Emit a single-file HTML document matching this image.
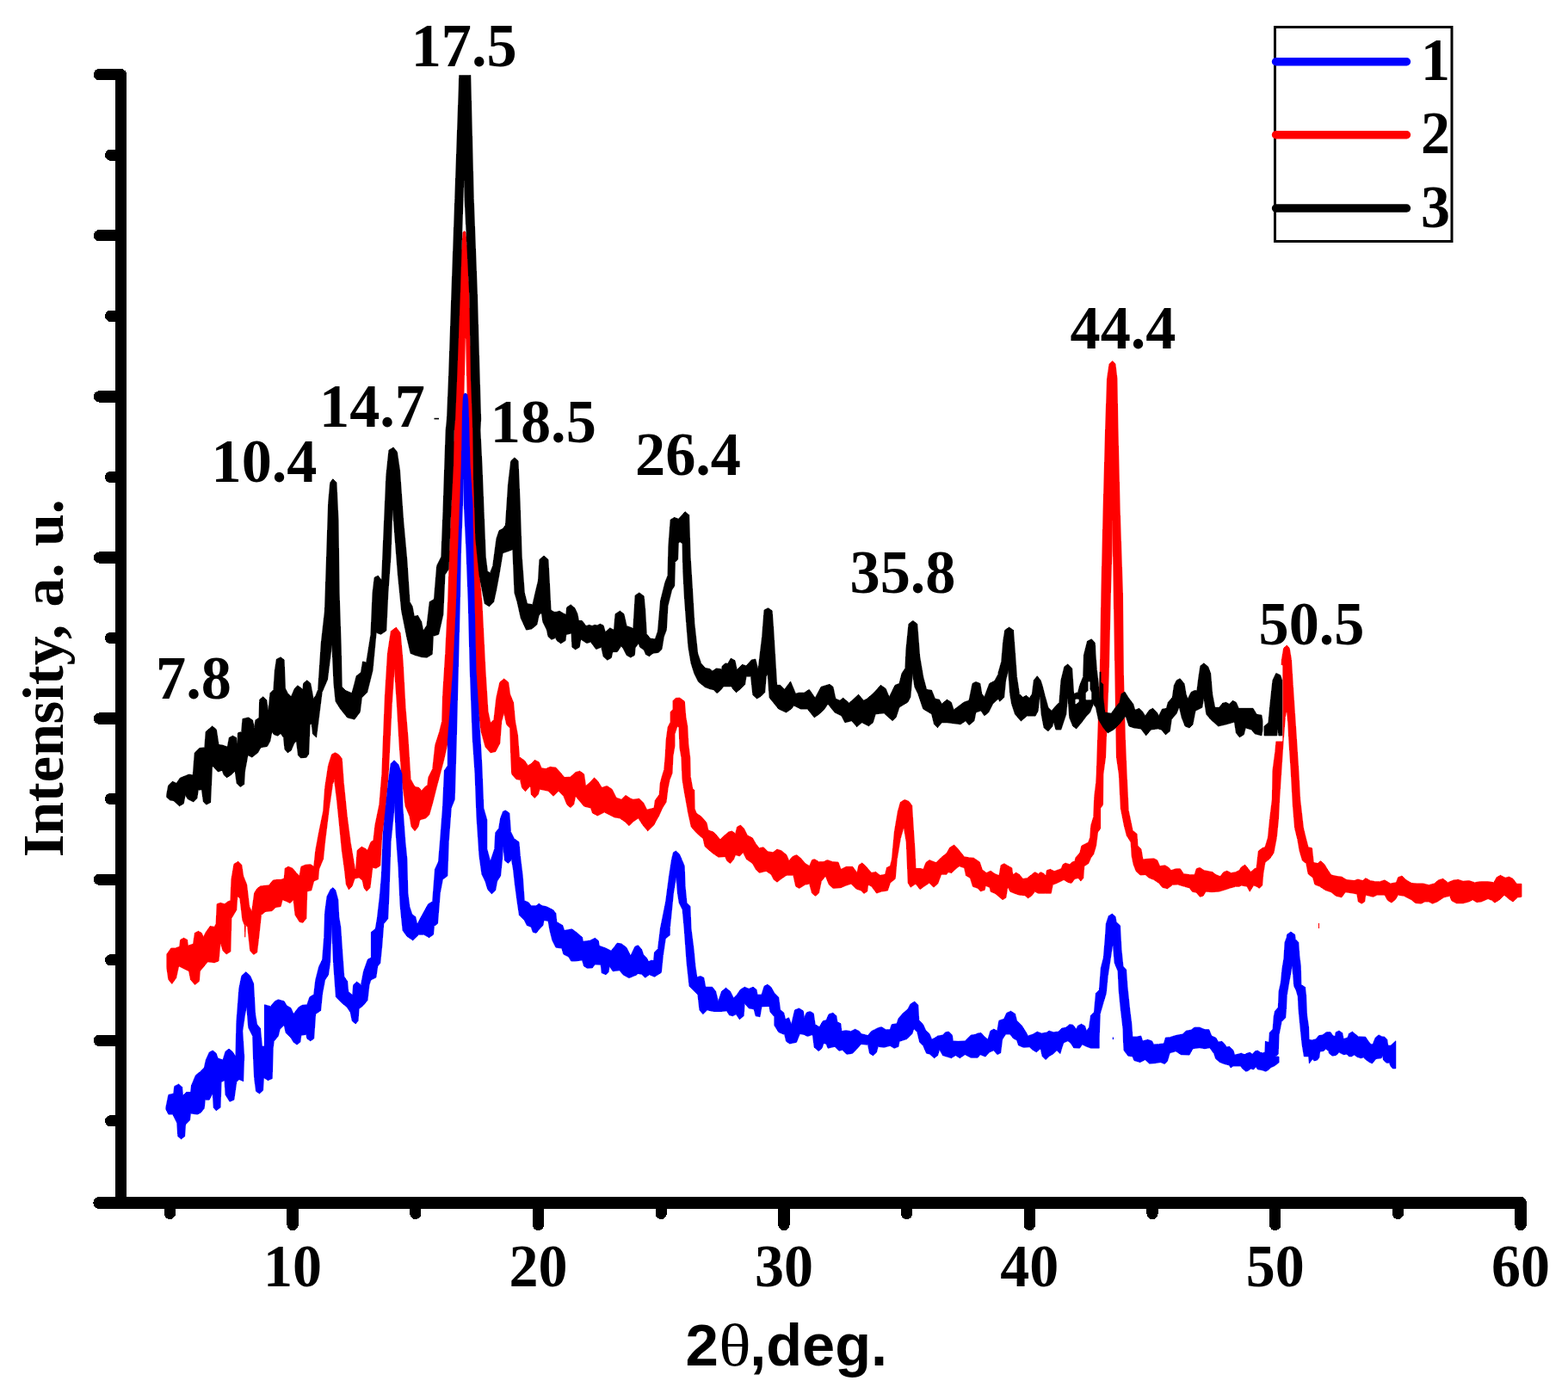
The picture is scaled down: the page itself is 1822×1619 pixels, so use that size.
<!DOCTYPE html>
<html lang="en"><head><meta charset="utf-8"><title>XRD patterns</title>
<style>
html,body{margin:0;padding:0;background:#fff;}
body{width:1822px;height:1619px;overflow:hidden;}
svg{display:block;}
text{font-family:"Liberation Serif",serif;font-weight:bold;fill:#000;}
.sans{font-family:"Liberation Sans",sans-serif;font-weight:bold;}
.c{stroke-width:0.8;stroke-linejoin:round;}
</style></head><body>
<svg width="1822" height="1619" viewBox="0 0 1822 1619">
<rect width="1822" height="1619" fill="#fff"/>
<defs><clipPath id="pc"><rect x="147" y="87.3" width="1680" height="1304"/></clipPath></defs>
<g clip-path="url(#pc)" shape-rendering="crispEdges">
<path class="c" fill="#f00" stroke="#f00" d="M193.8 1109.0L198.8 1102.0L203.7 1102.0L208.7 1100.1L209.6 1092.2L213.6 1090.2L217.5 1092.2L218.5 1099.1L224.5 1097.1L226.4 1084.3L230.4 1082.3L234.3 1084.3L236.3 1089.2L239.3 1083.3L244.2 1076.4L249.2 1077.3L251.1 1073.4L252.1 1050.7L256.1 1049.3L261.0 1050.7L265.0 1047.7L267.9 1046.7L268.9 1022.0L271.9 1004.2L276.8 1001.3L280.8 1005.2L282.7 1018.1L286.7 1028.0L289.7 1053.6L292.6 1059.6L295.6 1037.8L298.6 1032.9L302.5 1029.9L312.4 1028.9L317.3 1023.0L321.3 1022.4L326.2 1022.4L330.2 1021.0L331.2 1009.2L335.1 1007.2L340.0 1009.2L344.0 1014.1L348.0 1018.1L349.9 1007.2L354.9 1005.2L360.8 1004.6L364.7 1007.2L366.7 988.4L370.7 966.7L375.6 943.0L377.6 915.3L381.5 889.6L385.5 876.8L389.4 874.8L393.4 876.8L397.3 881.7L399.3 909.4L403.3 948.9L407.2 978.6L411.2 1002.3L413.2 1014.1L415.1 988.4L420.1 984.1L425.0 986.5L427.0 988.4L430.9 978.6L433.9 976.6L435.9 958.8L440.8 935.1L443.8 899.5L445.4 858.1L447.4 808.7L450.4 759.3L454.3 733.6L460.3 729.2L465.2 735.6L468.2 769.2L471.1 822.5L474.1 858.1L477.1 905.5L482.0 914.4L486.9 915.4L489.9 919.3L492.9 915.4L496.8 912.4L497.8 903.5L502.7 893.6L505.7 866.0L510.7 850.2L513.6 838.3L514.6 806.7L517.6 759.3L520.5 700.0L522.6 638.0L526.4 539.0L530.7 440.0L533.8 344.0L536.5 290.0L538.0 270.0L539.5 268.5L541.0 270.0L543.0 290.0L545.2 344.0L547.4 440.0L551.1 539.0L554.2 638.0L560.0 700.0L562.0 739.5L564.0 779.0L567.0 826.5L569.9 840.3L573.9 836.3L576.8 810.7L580.8 792.9L585.7 788.9L590.7 792.9L592.6 806.7L596.6 816.6L598.6 838.3L601.5 854.1L603.5 879.8L609.4 883.8L613.4 889.7L617.3 887.7L621.3 883.4L626.2 885.7L629.2 892.6L634.1 893.6L639.1 891.3L646.0 892.1L650.9 897.6L655.9 903.5L662.8 903.1L668.7 897.6L673.7 896.2L678.6 899.6L680.6 913.4L685.5 909.4L690.5 903.9L694.4 907.5L699.3 915.4L705.3 913.4L711.2 917.3L716.1 927.2L722.1 929.2L727.0 924.3L732.9 928.2L735.9 929.2L742.8 928.2L747.8 933.2L751.7 941.1L760.0 939.1L761.3 930.2L766.2 923.3L767.2 910.5L769.2 902.6L771.7 894.7L773.1 878.8L774.1 860.1L776.1 845.2L779.1 839.3L779.1 827.4L782.0 824.5L782.0 814.6L785.0 811.4L789.9 811.1L795.4 815.1L796.9 833.4L798.8 844.2L799.8 864.0L801.8 880.8L802.3 902.6L804.8 916.4L806.8 918.4L807.2 940.0L809.2 945.2L815.1 949.2L821.0 956.1L823.0 965.0L828.9 966.9L832.9 970.9L836.8 975.8L840.8 971.9L846.7 966.9L850.7 966.0L854.6 968.9L856.6 961.0L860.5 959.0L864.5 963.0L868.4 970.9L874.4 973.9L878.3 980.8L882.3 985.7L887.2 984.7L892.1 989.7L898.1 990.7L903.0 987.1L908.0 988.7L913.9 993.6L916.8 1000.5L920.8 995.6L925.7 993.6L930.7 997.6L935.6 1003.5L940.6 1006.5L943.5 999.5L946.5 998.6L951.4 1001.5L957.3 1001.5L961.3 999.5L967.2 1001.5L974.1 1002.1L977.1 1010.4L983.0 1007.4L990.9 1007.4L995.9 1014.4L997.9 1005.5L1001.8 1002.9L1005.8 1006.5L1012.7 1014.4L1017.6 1013.4L1022.6 1017.3L1028.5 1016.3L1030.5 1008.4L1034.4 1006.5L1036.4 998.6L1039.3 966.9L1043.3 943.2L1046.3 932.4L1051.2 929.4L1056.1 931.4L1059.7 936.3L1061.1 959.0L1063.1 988.7L1064.0 1009.4L1070.0 1009.4L1072.9 1010.4L1075.9 1002.5L1079.9 999.5L1084.8 1001.5L1087.8 1002.5L1093.7 996.6L1100.0 991.6L1103.7 985.0L1108.7 982.0L1112.6 986.0L1116.6 990.9L1120.5 995.8L1126.4 996.8L1131.4 997.2L1138.3 1001.8L1141.3 1010.7L1146.2 1014.6L1151.1 1012.2L1156.1 1015.6L1161.0 1017.6L1163.0 1005.7L1166.9 1003.7L1171.9 1006.7L1175.8 1008.7L1176.8 1016.6L1180.8 1014.2L1184.7 1016.6L1188.7 1021.5L1193.6 1020.5L1198.6 1016.6L1202.5 1013.6L1206.5 1015.6L1209.4 1013.6L1213.4 1015.6L1215.3 1018.6L1216.3 1011.6L1220.3 1010.3L1225.2 1012.6L1230.2 1010.7L1233.1 1009.7L1235.1 1004.7L1238.1 1003.1L1243.0 1004.7L1246.0 1001.8L1248.9 1001.2L1249.9 996.8L1254.9 990.9L1256.8 983.0L1260.8 981.0L1264.7 979.0L1266.7 973.1L1267.7 959.3L1270.7 949.4L1271.7 925.7L1273.6 909.9L1274.2 900.0L1275.5 860.0L1278.2 785.0L1279.8 689.0L1282.0 593.0L1284.6 496.0L1286.5 440.0L1289.0 423.0L1292.6 419.5L1296.0 423.0L1298.0 440.0L1299.0 496.0L1301.3 593.0L1304.5 689.0L1305.5 785.0L1307.5 860.0L1309.2 900.0L1310.2 919.8L1311.2 941.5L1314.1 955.3L1316.1 965.2L1321.1 969.2L1322.0 983.0L1326.0 986.9L1328.0 998.8L1334.9 998.2L1340.8 997.8L1344.8 999.8L1347.7 1006.7L1353.7 1005.7L1358.6 1008.7L1360.6 1011.6L1366.5 1009.7L1371.4 1009.7L1375.4 1015.6L1382.3 1016.6L1388.2 1016.6L1390.2 1009.7L1394.2 1008.3L1399.1 1011.6L1404.0 1012.6L1409.0 1013.6L1412.9 1016.6L1417.9 1018.6L1421.8 1013.6L1425.8 1012.2L1430.7 1014.6L1435.7 1013.6L1440.0 1011.6L1442.2 1008.0L1446.7 1005.1L1450.0 1009.1L1453.4 1013.5L1457.8 1009.5L1460.0 1009.1L1462.3 989.1L1466.7 985.7L1470.0 984.6L1473.4 973.5L1475.6 951.3L1478.3 929.0L1478.9 895.7L1481.8 873.4L1482.9 861.2L1485.6 828.9L1487.8 795.6L1489.4 766.7L1491.6 753.3L1495.2 750.0L1498.3 753.3L1500.5 766.7L1502.3 795.6L1504.5 828.9L1506.7 861.2L1508.9 895.7L1510.7 929.0L1514.5 962.4L1517.8 975.7L1520.1 984.6L1524.5 985.7L1526.3 1002.4L1531.2 1003.5L1534.5 1000.6L1539.0 1004.6L1542.3 1010.2L1546.8 1016.9L1553.4 1018.4L1559.0 1019.1L1564.5 1022.4L1573.4 1023.5L1577.9 1022.0L1583.4 1023.5L1586.8 1020.6L1592.3 1023.5L1597.9 1024.6L1603.5 1024.6L1609.0 1022.9L1615.7 1026.9L1622.4 1025.7L1624.6 1019.7L1629.0 1018.0L1633.5 1022.4L1640.1 1026.4L1646.8 1026.9L1653.5 1026.9L1660.2 1028.6L1666.8 1026.9L1671.3 1022.9L1676.8 1021.3L1682.4 1025.7L1689.1 1022.9L1694.6 1022.4L1700.2 1024.2L1706.9 1023.5L1713.5 1025.7L1720.2 1024.6L1729.1 1024.6L1735.8 1025.7L1739.1 1019.7L1743.5 1017.3L1749.1 1020.2L1753.6 1019.1L1758.0 1021.3L1762.5 1027.3L1768.0 1027.3L1768.0 1042.4L1763.6 1042.9L1758.0 1048.0L1753.6 1045.1L1748.0 1040.2L1742.4 1045.8L1736.9 1049.1L1733.5 1046.4L1729.1 1044.6L1721.3 1048.0L1715.8 1048.7L1711.3 1045.8L1706.9 1048.0L1700.2 1049.8L1692.4 1049.8L1686.8 1046.9L1684.6 1041.3L1677.9 1042.9L1670.2 1048.0L1664.6 1050.2L1660.2 1048.0L1655.7 1048.0L1651.3 1050.2L1644.6 1049.5L1640.1 1045.8L1631.3 1041.3L1624.6 1040.2L1621.2 1045.8L1616.8 1049.1L1612.4 1046.4L1609.0 1040.2L1600.1 1040.2L1595.7 1042.4L1586.8 1040.2L1585.7 1048.0L1582.3 1050.2L1578.3 1048.0L1576.8 1039.1L1571.2 1038.0L1563.4 1036.9L1559.0 1042.9L1552.3 1041.3L1546.8 1036.9L1540.1 1034.6L1533.4 1030.2L1527.8 1028.0L1525.6 1020.2L1520.1 1015.7L1517.8 1003.5L1513.4 1000.2L1510.1 989.1L1507.8 975.7L1504.5 962.4L1502.3 935.7L1500.1 895.7L1497.8 861.2L1496.7 840.1L1495.2 824.5L1493.4 833.4L1491.2 861.2L1488.9 895.7L1486.7 929.0L1485.6 951.3L1483.4 973.5L1480.0 991.3L1475.6 997.9L1470.0 1002.4L1467.8 1015.7L1466.7 1029.1L1463.4 1032.4L1460.0 1030.2L1456.7 1029.1L1452.2 1036.2L1448.9 1030.2L1442.2 1029.1L1440.0 1030.4L1435.7 1030.4L1429.7 1032.0L1423.8 1034.0L1415.9 1036.3L1408.0 1036.7L1401.1 1036.3L1398.1 1041.3L1394.2 1042.3L1390.2 1037.3L1385.3 1036.3L1382.3 1032.0L1376.4 1030.4L1368.5 1028.0L1362.6 1028.4L1356.6 1032.8L1350.7 1031.4L1346.7 1026.5L1340.8 1022.5L1334.9 1020.1L1330.9 1016.6L1325.0 1017.0L1320.1 1012.6L1317.1 1004.7L1315.1 994.8L1314.1 979.0L1309.2 971.1L1306.2 959.3L1302.3 939.5L1300.3 900.0L1297.4 880.0L1295.8 785.0L1294.2 689.0L1293.4 640.0L1292.7 592.0L1292.0 640.0L1290.5 689.0L1288.3 785.0L1284.6 880.0L1281.9 900.0L1281.5 935.6L1278.6 939.5L1278.6 963.2L1275.6 967.2L1273.6 983.0L1270.7 992.9L1267.7 996.8L1264.7 1003.7L1259.8 1006.7L1258.8 1020.5L1255.9 1024.1L1252.9 1020.5L1248.9 1021.5L1245.0 1026.5L1241.0 1025.5L1236.1 1022.5L1230.2 1025.5L1223.3 1028.4L1221.3 1038.3L1214.4 1038.3L1206.5 1038.3L1202.5 1036.3L1198.6 1041.3L1194.6 1043.8L1190.7 1040.7L1184.7 1040.3L1178.8 1038.3L1173.9 1036.3L1170.9 1030.4L1168.9 1043.3L1165.0 1045.8L1161.0 1042.3L1156.1 1038.3L1151.1 1036.3L1150.1 1031.4L1145.2 1029.4L1144.2 1034.4L1139.3 1035.9L1136.3 1032.4L1130.4 1030.4L1127.4 1020.5L1122.5 1017.6L1120.5 1008.7L1114.6 1006.7L1109.6 1010.7L1105.7 1014.6L1101.7 1013.6L1100.0 1016.3L1093.7 1016.3L1089.7 1027.2L1084.8 1031.2L1079.9 1026.2L1073.9 1030.2L1069.0 1033.7L1064.0 1027.2L1058.1 1031.2L1055.2 1026.2L1053.2 978.8L1050.2 961.0L1046.3 974.8L1042.3 998.6L1040.3 1021.3L1034.4 1026.2L1031.4 1035.1L1024.5 1036.1L1018.6 1038.1L1012.7 1030.2L1008.7 1028.2L1007.7 1036.1L1003.8 1038.5L1000.8 1035.1L994.9 1033.1L989.0 1027.2L983.0 1029.2L977.1 1031.7L968.2 1032.5L963.3 1028.2L959.3 1018.3L954.4 1024.2L951.4 1038.1L947.5 1041.4L943.5 1038.1L940.6 1027.2L935.6 1028.2L928.7 1032.5L924.7 1030.2L921.8 1017.3L913.9 1017.3L908.0 1021.3L903.0 1025.2L899.1 1022.3L896.1 1016.3L890.2 1012.4L882.3 1014.4L878.3 1010.4L874.4 1003.5L867.4 998.6L863.5 990.7L859.5 995.0L854.6 993.6L852.6 998.6L848.7 1003.5L844.7 1000.5L842.7 995.6L834.8 996.2L826.9 990.7L819.0 983.7L817.1 974.8L809.2 967.9L803.2 961.0L799.3 943.2L798.8 940.0L794.9 918.4L792.9 905.5L791.9 880.8L789.9 869.0L789.0 845.2L787.0 844.2L784.0 853.1L784.0 867.0L782.0 878.8L781.1 898.6L778.1 906.5L776.1 916.4L774.1 932.2L769.6 939.3L765.7 948.2L761.7 955.1L760.0 958.8L752.7 965.8L746.8 958.8L741.8 950.9L735.9 954.9L731.0 959.8L726.0 954.9L720.1 950.9L714.2 950.0L708.2 947.0L702.3 944.0L694.4 948.0L688.5 945.0L686.5 939.1L678.6 937.1L673.7 931.2L668.7 925.3L666.7 935.1L662.8 938.7L658.8 935.1L654.9 925.3L649.0 919.3L643.0 925.3L637.1 919.3L627.2 917.3L625.3 923.3L621.3 927.6L617.3 923.3L616.4 913.4L610.4 919.7L606.5 915.4L604.5 906.5L599.6 905.5L594.6 899.6L593.6 877.8L592.6 846.2L588.7 842.3L585.7 828.4L582.8 838.3L580.8 864.0L575.9 873.5L569.9 874.9L564.0 868.0L559.1 850.2L555.1 818.6L552.1 759.3L550.2 700.0L546.0 600.0L543.0 458.0L541.0 372.0L539.0 458.0L536.0 600.0L531.4 700.0L528.4 759.3L524.5 818.6L520.5 862.0L515.6 883.8L507.7 913.4L502.7 933.2L498.8 947.0L494.8 950.9L487.9 952.9L486.0 960.8L482.0 965.8L478.0 960.8L476.1 949.0L471.1 937.1L467.2 907.5L464.2 868.0L461.3 818.6L458.3 775.1L455.3 818.6L451.4 897.6L447.4 947.0L443.8 970.7L441.8 1006.2L436.9 1009.2L432.9 1008.2L430.0 1031.9L426.0 1035.9L423.0 1031.9L421.1 1023.0L417.1 1020.0L412.2 1021.0L409.2 1029.9L405.3 1033.9L402.3 1028.0L400.3 1010.2L397.3 988.4L394.4 958.8L391.4 929.2L388.5 906.4L386.5 911.4L382.5 939.0L377.6 978.6L375.6 998.3L370.7 1010.2L369.7 1022.0L364.7 1024.0L361.8 1034.9L356.8 1035.9L355.9 1067.5L351.9 1072.4L348.0 1071.4L343.0 1063.5L341.0 1045.7L337.1 1049.7L333.1 1047.7L328.2 1045.7L326.2 1053.6L320.3 1054.6L316.3 1058.6L308.4 1059.6L303.5 1063.5L300.5 1091.2L298.6 1107.0L294.6 1109.4L290.7 1105.0L287.7 1077.3L285.5 1075.4L284.7 1089.2L284.3 1075.4L281.8 1069.4L278.8 1043.8L275.8 1041.8L274.8 1057.6L268.9 1067.5L267.9 1106.0L263.0 1109.0L259.0 1105.0L256.1 1095.1L254.1 1116.9L249.2 1118.8L241.3 1117.9L237.3 1122.8L232.4 1128.7L231.4 1140.6L226.4 1144.5L221.5 1138.6L219.5 1128.7L213.6 1125.8L207.7 1122.8L204.7 1136.6L199.8 1143.5L195.8 1138.6L193.8 1124.8Z"/>
<path class="c" fill="#00f" stroke="#00f" d="M192.8 1287.2L195.8 1272.4L201.7 1271.0L202.7 1262.5L207.7 1260.0L211.6 1263.5L212.6 1273.4L216.6 1269.4L221.5 1269.4L222.5 1261.5L227.4 1249.7L232.4 1245.7L237.3 1240.8L239.3 1231.9L243.2 1223.0L247.2 1221.0L251.1 1224.0L253.1 1229.9L259.0 1231.9L262.0 1222.0L266.0 1219.1L269.9 1222.0L273.9 1228.0L274.8 1188.4L277.8 1148.9L280.8 1134.1L285.7 1129.6L290.7 1134.1L294.6 1143.0L296.6 1178.6L298.6 1190.4L302.5 1195.3L304.5 1216.1L307.4 1216.1L307.4 1167.7L314.4 1169.7L319.3 1163.7L323.3 1161.8L330.2 1163.7L333.1 1168.7L338.1 1171.6L341.0 1178.6L347.0 1170.7L350.9 1168.3L356.8 1167.7L359.8 1158.8L364.7 1155.8L366.7 1139.0L370.7 1123.2L374.6 1115.3L376.6 1089.6L377.6 1060.0L380.0 1041.9L384.0 1033.9L386.9 1031.6L389.9 1034.9L392.8 1045.8L393.8 1065.6L395.8 1077.4L397.8 1107.1L399.8 1134.8L403.7 1140.7L404.7 1152.5L409.7 1156.5L410.6 1144.6L414.6 1141.1L419.5 1144.6L422.5 1128.8L427.4 1115.0L431.4 1113.0L431.4 1083.4L436.3 1079.4L438.3 1067.6L441.3 1041.9L443.3 1018.1L445.2 968.7L448.2 939.1L451.2 909.4L454.1 887.7L458.1 883.7L463.0 888.7L467.0 899.5L468.0 939.1L470.9 978.6L472.9 998.4L473.9 1037.9L475.9 1053.7L478.8 1062.6L482.8 1065.6L484.8 1074.5L488.3 1067.6L493.7 1057.7L497.6 1050.7L502.6 1047.8L505.5 1010.2L509.5 1001.3L511.4 978.6L514.4 939.1L516.4 895.6L520.3 889.7L520.5 858.0L526.5 779.0L530.4 700.0L532.5 638.0L534.4 588.0L536.2 539.0L537.5 477.0L538.1 464.7L538.7 459.0L539.7 457.3L541.5 457.3L543.0 459.0L543.7 464.7L544.3 477.0L546.1 539.0L549.2 588.0L549.8 638.0L551.2 700.0L553.1 779.0L558.1 858.0L559.9 889.7L561.9 939.1L565.8 952.9L565.8 986.5L569.8 1001.3L574.7 986.5L575.7 967.7L579.6 962.8L581.6 950.9L584.6 943.0L587.6 942.0L591.9 945.0L593.5 966.7L597.4 974.6L603.0 978.6L604.4 994.4L607.3 1018.1L609.3 1046.8L614.2 1048.8L617.2 1052.7L623.1 1052.7L626.1 1050.2L630.0 1052.7L635.0 1053.7L642.9 1057.7L645.9 1061.6L646.9 1071.5L653.8 1075.5L655.7 1081.4L664.6 1079.8L669.6 1083.4L676.5 1089.3L677.5 1094.2L685.4 1093.2L691.3 1090.3L695.3 1093.2L696.3 1099.2L704.2 1102.1L710.1 1105.1L714.1 1100.2L717.0 1096.2L722.0 1096.8L727.9 1101.2L732.8 1111.0L737.8 1100.2L740.2 1099.2L741.7 1098.8L745.7 1103.7L747.7 1109.7L751.6 1113.6L753.6 1117.6L756.6 1116.2L759.5 1116.6L760.5 1106.7L764.5 1102.7L767.4 1079.0L773.6 1048.0L777.5 1018.3L780.5 998.6L782.5 990.6L785.4 989.1L789.4 992.6L792.4 999.5L795.3 1006.5L796.1 1029.6L798.0 1049.4L802.0 1053.3L803.0 1079.0L806.0 1102.7L807.9 1122.5L809.9 1135.9L813.9 1134.4L817.8 1136.3L819.8 1147.2L827.7 1147.2L831.6 1152.1L834.6 1164.0L838.6 1152.1L843.5 1148.2L848.4 1152.1L852.4 1160.0L856.3 1156.1L860.3 1150.2L865.2 1147.2L870.2 1149.2L875.1 1147.2L879.1 1150.2L880.0 1156.1L885.0 1156.1L888.0 1146.2L891.9 1144.2L895.9 1147.2L899.8 1154.1L904.7 1159.1L906.7 1173.9L910.7 1176.8L912.6 1184.7L916.6 1182.8L919.6 1190.7L923.5 1173.9L928.5 1171.9L933.4 1174.9L934.4 1182.8L937.3 1176.8L941.3 1175.5L945.3 1177.8L947.2 1190.7L952.2 1193.6L956.1 1186.7L960.1 1185.7L963.0 1178.8L968.0 1177.2L971.9 1180.8L972.9 1187.7L976.9 1189.7L977.9 1198.6L982.8 1197.6L988.7 1198.6L993.7 1196.2L998.6 1198.6L1000.6 1201.5L1008.5 1203.5L1012.4 1198.6L1016.4 1196.6L1020.3 1194.6L1024.3 1193.6L1029.2 1196.6L1034.2 1196.6L1036.1 1190.7L1042.1 1189.7L1044.0 1183.8L1049.0 1177.8L1054.9 1172.9L1057.9 1167.0L1062.8 1164.0L1066.8 1168.0L1067.8 1185.7L1072.7 1190.7L1075.7 1197.6L1080.0 1201.5L1082.7 1208.0L1086.7 1206.0L1089.6 1204.0L1095.6 1203.0L1098.5 1199.7L1102.5 1199.1L1106.4 1203.0L1107.4 1209.9L1113.3 1210.3L1121.3 1209.9L1124.2 1207.0L1128.2 1203.0L1133.1 1202.4L1136.1 1201.0L1140.0 1200.4L1144.0 1205.0L1147.9 1208.0L1150.9 1198.1L1154.8 1196.1L1158.8 1198.1L1160.8 1186.2L1166.7 1184.2L1169.7 1177.3L1174.6 1175.2L1179.5 1178.3L1181.5 1186.2L1187.4 1192.1L1192.4 1200.0L1194.4 1204.0L1200.3 1202.0L1205.2 1199.1L1210.2 1201.0L1216.1 1200.0L1219.1 1198.1L1224.0 1199.7L1229.9 1199.1L1233.9 1195.1L1238.8 1194.1L1242.8 1190.6L1246.7 1191.2L1250.7 1196.1L1252.6 1192.1L1256.6 1190.2L1260.6 1192.5L1262.5 1198.1L1265.5 1194.1L1267.5 1180.3L1271.4 1176.3L1273.4 1154.6L1277.3 1150.7L1279.3 1125.0L1282.3 1113.1L1284.3 1089.4L1285.3 1073.6L1288.2 1064.7L1292.2 1062.1L1296.1 1065.3L1297.1 1071.6L1301.5 1075.6L1303.0 1103.2L1305.0 1123.0L1308.6 1126.9L1310.0 1146.7L1312.9 1174.4L1314.9 1190.2L1315.9 1205.0L1320.8 1205.0L1325.8 1204.0L1327.7 1209.9L1333.7 1208.3L1338.6 1209.9L1340.6 1213.9L1346.5 1213.5L1352.4 1212.9L1354.4 1206.0L1359.3 1205.6L1364.3 1204.0L1368.2 1203.0L1374.2 1202.0L1378.1 1198.1L1384.0 1197.1L1388.0 1194.1L1393.9 1194.1L1399.9 1196.5L1404.8 1196.5L1407.8 1204.0L1412.7 1206.0L1415.7 1210.9L1420.0 1210.3L1423.1 1213.7L1425.4 1216.8L1428.4 1216.4L1433.0 1220.6L1434.6 1226.0L1438.4 1225.2L1442.3 1224.1L1446.1 1225.7L1449.2 1224.1L1452.3 1223.2L1455.3 1225.2L1458.4 1221.7L1461.5 1221.1L1464.5 1223.2L1467.6 1223.7L1469.9 1222.9L1470.4 1210.3L1474.5 1211.4L1475.3 1200.2L1479.1 1196.0L1480.2 1181.4L1481.5 1175.3L1485.3 1170.7L1486.1 1152.2L1488.4 1141.5L1489.9 1126.1L1491.9 1113.8L1493.0 1095.3L1495.3 1089.2L1495.6 1086.1L1499.9 1083.1L1504.5 1086.1L1505.3 1091.5L1508.8 1095.3L1509.9 1110.7L1511.4 1123.0L1511.9 1144.5L1516.5 1147.3L1517.6 1156.8L1518.6 1179.9L1520.6 1193.7L1521.1 1208.3L1524.5 1208.8L1529.1 1207.8L1532.2 1203.7L1536.8 1202.9L1541.4 1199.5L1546.0 1199.5L1548.8 1203.7L1551.4 1204.5L1552.1 1199.8L1556.0 1198.0L1559.8 1200.6L1561.1 1207.5L1566.0 1206.0L1567.5 1201.4L1571.4 1199.1L1575.2 1202.2L1578.3 1204.8L1586.7 1205.2L1589.8 1209.8L1592.9 1213.7L1595.2 1213.7L1598.2 1206.0L1602.1 1202.9L1605.9 1204.8L1609.0 1205.2L1611.8 1208.3L1612.8 1215.2L1615.9 1215.2L1621.8 1209.8L1621.8 1241.8L1618.2 1241.8L1615.9 1239.0L1614.4 1235.2L1611.3 1235.5L1607.5 1232.1L1606.7 1226.7L1605.2 1229.8L1599.0 1230.6L1594.4 1236.0L1589.8 1233.7L1586.0 1230.6L1584.4 1229.0L1581.3 1229.8L1576.7 1228.3L1573.7 1226.0L1570.6 1227.8L1567.5 1227.8L1565.2 1225.2L1561.4 1225.7L1558.3 1224.4L1556.0 1222.9L1552.9 1226.3L1548.3 1227.2L1544.5 1224.4L1543.7 1221.4L1540.6 1219.1L1538.3 1221.4L1533.7 1222.1L1532.9 1229.0L1530.6 1232.1L1526.8 1232.9L1525.2 1230.6L1521.4 1236.0L1520.6 1227.8L1515.3 1227.8L1513.0 1213.7L1511.4 1198.3L1509.9 1182.9L1508.8 1170.7L1508.3 1158.4L1506.0 1150.7L1503.7 1146.1L1502.7 1133.8L1501.4 1121.5L1500.7 1124.5L1499.9 1130.7L1497.6 1143.0L1495.3 1156.8L1494.5 1173.7L1493.7 1182.9L1489.1 1187.6L1486.1 1202.9L1485.3 1225.2L1482.2 1227.5L1486.1 1228.3L1486.1 1234.9L1483.8 1236.7L1480.7 1239.0L1476.8 1240.6L1473.8 1243.6L1470.7 1245.2L1466.1 1243.6L1461.5 1242.9L1459.2 1239.8L1456.9 1242.9L1453.0 1242.1L1450.7 1244.4L1447.6 1245.2L1443.8 1242.1L1441.5 1239.0L1433.0 1239.0L1430.0 1241.0L1428.4 1238.0L1423.1 1236.7L1420.0 1235.6L1417.6 1234.6L1412.7 1230.7L1410.7 1224.7L1405.8 1217.8L1399.9 1218.8L1393.9 1217.8L1386.0 1218.8L1382.1 1226.1L1372.2 1225.7L1366.3 1221.8L1359.3 1223.8L1356.4 1233.6L1353.4 1236.6L1348.5 1234.6L1342.6 1235.6L1335.6 1236.2L1330.7 1231.7L1324.8 1234.6L1317.9 1232.6L1315.9 1227.7L1310.9 1227.3L1306.0 1220.8L1305.4 1209.9L1305.0 1196.1L1302.0 1170.4L1300.1 1150.7L1299.1 1128.9L1295.1 1119.0L1293.2 1095.3L1290.2 1115.1L1287.2 1134.8L1285.3 1154.6L1282.3 1164.5L1278.3 1178.3L1277.3 1206.0L1277.3 1218.2L1267.5 1218.2L1261.5 1215.9L1257.6 1213.9L1254.6 1218.2L1247.7 1217.8L1243.8 1211.9L1240.8 1209.9L1235.9 1211.9L1233.9 1217.8L1231.9 1224.7L1228.0 1220.8L1224.0 1224.7L1219.1 1227.7L1215.1 1231.7L1211.2 1227.7L1209.2 1218.8L1204.2 1222.8L1199.3 1219.8L1196.3 1216.8L1189.4 1217.4L1183.5 1214.9L1181.5 1208.9L1177.6 1207.0L1173.6 1202.0L1168.7 1202.0L1164.7 1208.0L1162.7 1223.8L1158.8 1225.7L1154.8 1220.8L1149.9 1222.8L1145.0 1228.1L1139.0 1225.7L1136.1 1229.3L1128.2 1229.3L1121.3 1225.7L1115.3 1229.7L1110.4 1226.7L1105.4 1229.7L1095.6 1226.7L1091.6 1219.8L1089.6 1226.7L1085.7 1229.7L1080.0 1224.9L1076.6 1224.3L1072.7 1215.4L1068.7 1211.4L1065.8 1199.6L1061.8 1195.6L1059.9 1201.5L1053.9 1207.5L1045.0 1210.4L1044.0 1216.4L1039.1 1218.3L1034.2 1215.4L1027.3 1217.3L1020.3 1216.4L1018.4 1223.3L1014.4 1226.8L1010.5 1224.3L1008.5 1214.4L1000.6 1213.4L995.6 1219.3L990.7 1224.3L983.8 1225.3L978.8 1220.3L974.9 1221.3L970.0 1216.4L962.0 1218.3L960.1 1213.4L957.1 1212.4L955.1 1218.3L951.2 1221.7L946.2 1217.3L944.3 1202.5L938.3 1204.5L934.4 1202.5L929.4 1201.5L925.5 1211.4L917.6 1213.0L913.6 1210.4L911.7 1202.5L904.7 1199.6L899.8 1191.7L899.8 1181.8L894.9 1175.9L893.9 1169.5L885.0 1169.9L883.0 1181.8L878.1 1180.8L876.1 1172.9L870.2 1171.9L865.2 1166.0L864.2 1180.8L859.3 1184.7L855.3 1178.8L851.4 1180.8L847.4 1179.8L844.5 1174.9L838.6 1175.5L828.7 1175.5L821.8 1173.9L816.8 1178.8L812.9 1173.9L810.9 1156.1L805.0 1150.2L801.0 1146.2L798.0 1118.6L795.1 1079.0L793.1 1057.3L789.2 1049.4L787.4 1038.0L785.8 1018.3L782.5 1038.0L778.5 1077.6L778.3 1086.9L773.3 1090.9L770.4 1110.7L768.4 1130.4L760.5 1135.3L754.6 1132.8L749.6 1136.3L745.7 1132.4L740.7 1131.4L740.2 1132.8L730.9 1136.7L723.9 1132.8L720.0 1127.8L712.1 1128.8L708.1 1122.9L707.1 1129.8L704.2 1132.8L699.2 1130.8L698.2 1121.3L691.3 1120.9L688.4 1124.9L682.4 1125.3L678.5 1122.9L676.5 1116.0L668.6 1117.0L663.7 1117.0L660.7 1112.0L654.8 1109.1L652.8 1102.1L645.9 1101.2L641.9 1093.2L638.9 1081.4L637.0 1070.5L632.0 1069.5L631.0 1075.5L627.1 1079.4L623.1 1084.4L619.2 1083.4L617.2 1077.4L612.3 1075.5L609.3 1069.5L603.4 1063.6L601.0 1047.8L598.4 1028.0L596.4 1010.2L594.5 999.4L590.5 1003.3L586.6 1000.3L584.6 982.6L583.6 998.4L581.6 1018.1L577.7 1024.1L575.7 1034.9L571.3 1038.9L566.8 1033.9L563.8 1024.1L559.9 1016.2L556.9 994.4L553.9 949.0L552.0 899.5L549.2 858.0L546.2 779.0L544.2 700.0L541.8 638.0L539.3 588.0L538.3 548.0L537.5 588.0L535.6 638.0L534.4 700.0L532.4 779.0L530.4 858.0L528.3 929.2L524.3 939.1L521.3 978.6L519.9 1018.1L514.4 1022.1L511.4 1037.9L508.5 1073.5L504.5 1076.4L503.5 1086.3L498.6 1089.7L492.7 1086.3L486.7 1086.3L479.8 1092.9L472.9 1088.3L468.0 1081.4L465.0 1051.7L463.0 1008.3L460.1 968.7L458.5 934.1L457.1 949.0L454.1 978.6L452.1 1037.9L450.7 1067.9L445.8 1073.8L443.8 1099.5L441.8 1119.3L438.8 1123.2L436.9 1136.1L430.9 1139.0L429.0 1145.0L427.0 1162.7L422.0 1168.7L417.1 1172.6L416.1 1186.5L413.2 1190.0L409.2 1186.5L407.2 1176.6L403.3 1170.7L397.3 1165.7L390.4 1158.8L387.5 1119.3L385.5 1074.8L383.5 1119.3L381.5 1133.1L377.6 1139.0L374.6 1154.8L372.6 1174.6L366.7 1178.6L364.7 1207.2L360.8 1209.8L356.8 1207.2L355.9 1202.3L349.9 1203.3L348.9 1211.2L345.0 1214.1L341.0 1211.2L338.1 1206.2L332.1 1200.3L330.2 1191.4L325.2 1196.3L323.3 1204.2L318.3 1210.2L317.3 1218.1L316.3 1253.6L311.4 1255.6L306.5 1252.6L305.5 1267.5L301.5 1271.0L297.6 1268.5L295.6 1253.6L294.6 1233.9L293.6 1204.2L288.7 1194.4L286.7 1169.7L284.7 1178.6L281.8 1198.3L283.7 1228.0L282.7 1256.6L277.8 1254.6L274.8 1257.6L271.9 1278.3L266.9 1280.3L262.0 1272.4L261.0 1255.6L257.1 1257.6L256.1 1287.2L251.1 1290.8L248.2 1287.2L247.2 1270.4L243.2 1278.3L238.3 1278.3L237.3 1288.2L233.3 1293.2L229.4 1295.1L221.5 1294.1L220.5 1302.0L215.6 1307.0L214.6 1320.8L210.6 1323.8L206.7 1320.8L205.7 1305.0L200.7 1295.1L195.8 1295.1L192.8 1289.2Z"/>
<path class="c" fill="#fff" stroke="#fff" d="M1465.6 773.4L1490.0 773.4L1490.0 861.2L1465.6 861.2Z"/>
<path class="c" fill="#000" stroke="#000" d="M193.6 923.9L195.6 913.0L200.4 908.2L205.1 910.3L209.2 904.2L219.4 900.1L224.2 900.8L226.2 874.9L231.6 869.5L237.8 868.8L239.1 850.5L246.6 843.9L251.4 847.8L254.1 865.4L258.8 866.1L264.3 868.1L266.3 857.3L270.4 855.2L274.5 857.3L275.8 866.1L276.5 851.8L280.6 850.5L281.9 835.5L288.7 833.9L293.5 836.9L295.5 845.7L296.9 836.9L301.0 834.2L301.6 813.1L305.7 809.7L309.8 813.8L311.8 827.4L313.9 805.6L317.9 801.5L319.3 779.8L321.3 766.2L326.1 763.8L330.2 766.9L331.5 800.2L334.3 805.6L338.3 809.7L342.4 800.2L345.8 796.8L349.9 799.5L351.9 801.5L352.6 794.1L356.7 790.7L360.8 794.1L364.2 812.4L366.9 808.3L369.6 801.5L373.2 747.8L377.4 710.0L379.5 647.0L381.6 584.0L383.7 560.9L386.8 556.7L391.0 560.9L393.1 605.0L394.2 689.0L396.3 752.0L397.3 798.3L401.5 802.5L408.9 805.6L412.0 794.1L414.1 785.7L419.4 781.5L421.5 768.9L425.7 769.9L430.9 737.3L433.0 689.0L435.1 671.2L439.3 669.1L443.5 674.3L445.6 626.0L448.8 552.5L451.9 523.1L457.2 520.0L461.4 525.2L464.5 546.2L468.7 605.0L472.9 651.2L476.1 699.5L479.2 704.8L481.3 716.3L485.5 715.3L489.7 722.6L491.8 733.1L496.0 726.8L499.2 699.5L504.4 696.4L507.6 657.5L512.8 647.0L514.9 594.5L517.0 531.5L518.1 500.0L519.4 487.0L521.4 440.0L522.6 406.0L524.7 344.0L528.7 230.6L533.3 100.0L533.8 80.0L546.6 80.0L547.1 100.0L550.3 230.6L554.6 344.0L556.3 406.0L557.3 440.0L558.7 487.0L558.0 500.0L560.1 542.0L562.2 594.5L564.3 647.0L566.4 663.8L569.5 665.9L572.7 657.5L576.9 626.0L580.0 616.6L584.2 614.5L587.4 610.3L590.5 563.0L593.7 535.7L597.9 531.9L602.1 535.7L604.2 584.0L606.3 647.0L609.4 689.0L612.6 701.6L618.9 702.7L623.1 684.3L625.4 675.0L626.9 650.3L632.0 646.0L637.0 650.3L638.5 678.1L640.1 709.0L643.9 711.3L646.3 711.3L650.1 710.2L654.7 712.9L657.8 714.4L658.6 705.9L663.2 702.8L667.9 706.7L671.0 713.6L672.5 721.4L676.4 721.4L681.0 727.5L684.9 726.3L688.0 727.5L691.0 726.3L694.1 726.8L697.2 725.2L701.1 726.8L703.4 734.5L708.8 729.8L713.4 732.2L715.0 713.6L720.4 710.1L725.0 713.6L728.1 727.5L732.7 729.1L735.8 730.6L738.1 692.0L742.8 688.9L748.2 692.8L749.7 709.0L751.3 736.8L755.9 742.2L761.3 742.7L764.4 733.7L767.5 698.2L772.9 676.6L776.0 668.8L776.8 634.9L779.1 604.0L783.7 601.4L788.3 603.2L796.1 594.7L800.7 598.6L802.2 647.2L804.6 685.8L806.9 724.4L810.7 759.2L814.6 770.8L819.2 776.2L825.4 777.7L827.7 780.0L832.4 776.9L838.5 777.7L839.3 773.9L843.2 770.8L845.5 771.5L849.3 765.1L854.0 767.7L856.3 778.5L862.5 772.3L867.1 773.9L873.3 766.9L877.9 766.1L881.0 778.5L885.6 739.9L888.0 709.0L892.6 706.7L897.2 709.8L898.8 732.2L902.7 796.3L906.7 796.3L911.6 801.3L918.6 792.0L924.5 806.2L928.4 805.2L934.4 805.2L940.3 801.3L947.2 811.2L954.1 798.3L964.0 795.3L968.0 798.3L970.9 812.1L975.9 814.1L979.8 811.2L986.7 817.1L997.6 807.2L1003.5 814.1L1007.5 812.1L1015.4 805.2L1023.3 796.3L1029.2 800.3L1033.2 810.2L1040.1 796.3L1045.0 794.4L1048.0 782.5L1051.9 776.6L1052.9 754.8L1055.9 725.2L1060.8 721.3L1065.8 725.2L1068.7 762.7L1072.7 786.5L1076.6 801.3L1082.6 802.3L1086.5 812.1L1091.4 813.1L1094.4 818.1L1100.3 813.1L1105.3 816.1L1108.2 825.0L1120.1 816.1L1126.0 814.1L1130.0 794.4L1133.9 792.4L1138.9 794.4L1140.8 806.2L1143.8 810.2L1149.7 794.4L1155.7 791.4L1160.0 783.5L1159.8 782.7L1163.7 768.9L1165.7 745.2L1167.7 732.4L1172.6 729.0L1177.5 732.4L1179.5 759.0L1181.5 786.7L1184.5 806.5L1188.4 810.4L1192.4 808.4L1196.3 811.4L1199.3 806.5L1201.3 790.7L1205.2 785.7L1209.2 790.7L1211.1 796.6L1214.1 808.4L1218.0 822.3L1222.0 826.2L1226.9 820.3L1230.9 816.3L1232.9 790.7L1236.8 774.8L1240.8 771.9L1245.7 776.8L1247.7 806.5L1252.6 804.5L1254.6 796.6L1258.6 786.7L1259.5 761.0L1263.5 745.2L1268.4 742.8L1272.4 747.2L1273.0 760.0L1274.4 778.4L1276.3 794.0L1277.1 811.0L1277.5 811.0L1278.1 781.0L1279.1 781.0L1279.1 792.6L1281.7 795.4L1281.9 811.0L1283.8 828.0L1285.2 828.2L1291.2 829.2L1296.1 822.3L1301.0 816.3L1303.0 806.5L1307.0 804.1L1310.9 810.4L1316.8 818.3L1318.8 825.2L1323.8 823.3L1327.7 827.2L1330.7 832.1L1335.6 825.2L1339.6 823.3L1344.5 828.2L1346.5 832.1L1350.4 824.2L1355.4 823.3L1357.3 816.3L1362.3 810.4L1364.3 796.6L1367.2 790.7L1371.2 788.7L1376.1 794.6L1378.1 806.5L1380.1 812.4L1384.0 804.5L1388.0 802.5L1390.9 802.5L1392.9 786.7L1394.9 773.9L1398.8 770.9L1403.8 774.8L1406.7 782.7L1408.7 806.5L1411.7 822.3L1416.6 822.3L1420.6 817.3L1424.5 816.3L1428.5 818.3L1432.4 814.4L1436.4 816.3L1439.3 823.3L1448.2 823.3L1456.1 823.3L1460.1 830.2L1466.0 831.2L1467.0 838.1L1467.0 848.0L1466.0 854.9L1458.1 852.9L1454.2 848.0L1447.3 846.0L1445.3 853.9L1440.3 856.8L1436.4 851.9L1434.4 839.1L1424.5 842.0L1415.6 844.0L1406.7 836.1L1401.8 830.2L1398.8 810.4L1396.9 822.3L1389.0 826.2L1386.0 842.0L1382.0 846.0L1377.1 844.0L1373.2 834.1L1370.2 821.3L1367.2 829.2L1361.3 836.1L1359.3 849.9L1354.4 853.9L1349.4 848.0L1345.5 847.0L1337.6 848.0L1331.7 854.9L1325.7 847.0L1317.8 846.0L1311.9 844.0L1308.0 832.1L1302.0 840.0L1294.1 848.0L1287.2 851.9L1282.3 846.0L1276.3 836.1L1273.4 822.3L1270.4 818.3L1266.5 828.2L1262.5 832.1L1256.6 840.0L1250.7 847.0L1246.7 844.0L1242.7 834.1L1240.8 808.4L1238.8 830.2L1232.9 848.0L1226.9 848.0L1224.0 838.1L1223.0 844.0L1218.0 849.9L1213.1 846.0L1210.1 830.2L1208.2 806.5L1206.2 826.2L1203.2 832.1L1193.3 832.1L1186.4 838.1L1179.5 830.2L1175.6 818.3L1173.6 806.5L1171.6 778.8L1168.7 790.7L1166.7 810.4L1161.7 815.3L1160.0 812.1L1153.7 818.1L1148.7 828.0L1143.8 831.9L1139.9 826.0L1133.9 828.0L1132.0 837.8L1126.0 842.8L1122.1 837.8L1116.1 841.8L1108.2 840.8L1100.3 839.8L1094.4 839.8L1089.5 845.7L1085.5 841.8L1082.6 829.9L1072.7 824.0L1066.7 806.2L1062.8 798.3L1060.4 782.5L1057.9 810.2L1054.9 816.1L1045.0 822.0L1041.1 833.9L1037.1 837.8L1027.2 828.9L1017.3 829.9L1014.4 839.8L1009.4 843.8L1001.5 839.8L995.6 844.7L989.7 837.8L981.8 839.8L977.8 831.9L969.9 828.0L962.0 818.1L958.1 824.0L952.1 829.9L946.2 833.9L938.3 824.0L930.4 824.0L922.5 820.0L919.5 824.0L913.6 828.0L904.7 824.0L894.1 810.9L892.1 783.1L890.3 786.2L888.7 804.7L884.1 809.4L879.5 812.0L874.8 807.8L872.5 786.2L867.1 786.2L865.6 795.5L859.4 801.7L855.5 804.7L851.7 800.9L850.1 797.8L840.8 797.8L837.8 801.7L833.1 805.8L829.3 801.7L825.4 800.9L819.2 798.6L811.5 792.4L806.9 783.1L803.0 770.8L799.9 752.2L797.6 724.4L795.3 693.6L793.7 662.7L793.0 631.8L789.9 629.5L788.3 631.8L787.6 650.3L784.5 653.4L783.7 681.2L780.6 685.8L776.0 704.4L774.4 732.2L771.4 739.9L769.0 754.6L765.2 758.4L759.0 759.2L754.4 762.7L750.5 760.7L748.2 755.3L743.6 752.2L742.0 747.6L738.1 753.0L737.4 761.5L732.7 764.1L728.1 761.5L724.2 753.8L721.9 750.7L717.3 757.6L711.9 757.6L710.3 764.6L705.7 767.2L701.1 763.1L698.8 752.2L692.6 754.6L686.4 746.1L681.8 747.6L674.8 743.0L673.3 752.2L668.6 754.9L664.8 752.2L664.0 736.0L657.8 737.6L657.1 744.5L651.7 747.9L647.0 744.5L645.5 741.4L640.8 743.3L637.0 739.9L635.4 732.2L630.8 722.9L629.3 712.1L626.2 715.2L623.9 726.0L617.8 731.0L611.5 732.1L605.2 718.4L601.0 699.5L597.9 689.0L595.8 638.6L590.5 640.7L584.2 642.8L580.0 668.0L576.9 684.8L573.7 699.5L568.5 704.8L563.2 701.6L556.9 668.0L552.7 626.0L550.6 563.0L549.6 500.0L549.2 487.0L547.4 440.0L546.8 406.0L545.7 344.0L540.0 230.6L539.2 197.0L538.1 230.6L534.4 344.0L532.0 406.0L530.7 440.0L528.7 487.0L527.5 500.0L526.5 542.0L523.3 605.0L521.2 661.7L517.0 668.0L514.9 714.2L509.7 737.3L503.4 739.4L502.3 760.4L496.0 764.2L489.7 763.6L482.4 761.5L477.1 759.4L472.9 741.5L466.6 710.0L462.4 668.0L456.1 588.2L454.0 647.0L450.9 689.0L448.8 733.1L442.5 737.3L437.2 735.2L433.0 779.4L426.7 804.6L420.4 810.9L418.3 827.7L412.0 836.1L403.6 834.0L395.2 823.5L390.0 815.1L387.9 794.1L385.8 747.8L380.5 789.9L374.2 804.6L367.6 856.9L363.5 853.2L362.1 841.0L360.1 842.3L358.7 876.3L356.0 880.4L349.2 880.8L346.5 877.7L344.4 861.3L341.7 864.1L338.3 872.2L334.3 874.9L330.9 870.9L329.5 857.3L326.1 852.5L322.7 855.2L318.6 853.9L315.9 850.5L313.9 861.3L310.5 867.5L303.0 868.8L299.6 874.9L292.8 880.1L288.0 877.7L284.6 896.0L283.6 911.6L279.2 914.6L275.1 910.3L273.1 896.0L268.3 900.8L263.6 903.7L260.2 900.8L258.1 895.3L253.4 897.0L249.3 892.6L246.6 889.9L244.6 932.7L239.8 935.1L236.4 932.0L234.4 917.7L230.3 918.4L228.9 927.9L224.8 932.0L218.1 928.6L215.3 923.9L213.3 934.1L208.5 936.8L201.7 930.7L197.7 930.0L193.6 926.6Z"/>
<path class="c" fill="#000" stroke="#000" d="M1469.0 844.0L1473.9 840.0L1475.9 818.3L1478.9 790.7L1482.8 782.4L1487.8 784.7L1489.7 790.7L1489.7 854.9L1485.8 854.9L1484.8 845.0L1483.8 854.9L1475.9 854.9L1469.0 854.9Z"/>
<path class="c" fill="#fff" stroke="#fff" d="M1249.9 813.0L1253.3 813.0L1253.3 815.7L1249.9 818.1Z"/>
<path class="c" fill="#fff" stroke="#fff" d="M1262.1 805.2L1264.8 802.5L1264.8 792.6L1266.2 792.6L1266.2 800.8L1267.9 804.8L1267.9 813.0L1266.9 813.0L1266.2 813.0L1265.5 813.0L1264.8 813.0L1262.1 813.0Z"/>
</g>
<g stroke="#000" stroke-linecap="round" fill="none" shape-rendering="crispEdges">
<path stroke-width="12.8" d="M140.5 86.7 V1398"/>
<path stroke-width="14" d="M115.4 1398 H1766.9"/>
<path stroke-width="13.3" d="M115.4 86.7 H140.5 M128.6 180.2 H140.5 M115.4 273.8 H140.5 M128.6 367.3 H140.5 M115.4 460.9 H140.5 M128.6 554.5 H140.5 M115.4 648.0 H140.5 M128.6 741.6 H140.5 M115.4 835.1 H140.5 M128.6 928.6 H140.5 M115.4 1022.2 H140.5 M128.6 1115.8 H140.5 M115.4 1209.3 H140.5 M128.6 1302.8 H140.5 M197.4 1398 V1410.4 M340.1 1398 V1423.5 M482.8 1398 V1410.4 M625.5 1398 V1423.5 M768.2 1398 V1410.4 M910.9 1398 V1423.5 M1053.6 1398 V1410.4 M1196.3 1398 V1423.5 M1339.0 1398 V1410.4 M1481.7 1398 V1423.5 M1624.4 1398 V1410.4 M1767.1 1398 V1423.5"/>
</g>
<text transform="translate(340.1 1495) scale(1 1.035)" font-size="68" text-anchor="middle">10</text>
<text transform="translate(625.5 1495) scale(1 1.035)" font-size="68" text-anchor="middle">20</text>
<text transform="translate(910.9 1495) scale(1 1.035)" font-size="68" text-anchor="middle">30</text>
<text transform="translate(1196.3 1495) scale(1 1.035)" font-size="68" text-anchor="middle">40</text>
<text transform="translate(1481.7 1495) scale(1 1.035)" font-size="68" text-anchor="middle">50</text>
<text transform="translate(1767.1 1495) scale(1 1.035)" font-size="68" text-anchor="middle">60</text>
<text class="sans" x="796.5" y="1587" font-size="69">2</text>
<text transform="translate(835.2 1587) scale(1.13 1.02)" font-size="69" style="font-weight:normal">θ</text>
<text class="sans" x="871.2" y="1587" font-size="68.5">,deg.</text>
<text transform="translate(72.8 996.2) rotate(-90)" font-size="68">Intensity,<tspan dx="3.5"> a.</tspan><tspan dx="2.5"> u.</tspan></text>
<text transform="translate(539.2 77) scale(1 1.035)" font-size="70.3" text-anchor="middle">17.5</text>
<text transform="translate(432.5 495.8) scale(1 1.035)" font-size="70.3" text-anchor="middle">14.7</text>
<text transform="translate(307 560) scale(1 1.035)" font-size="70.3" text-anchor="middle">10.4</text>
<text transform="translate(631.3 513.5) scale(1 1.035)" font-size="70.3" text-anchor="middle">18.5</text>
<text transform="translate(799.5 551.5) scale(1 1.035)" font-size="70.3" text-anchor="middle">26.4</text>
<text transform="translate(1049 688.7) scale(1 1.035)" font-size="70.3" text-anchor="middle">35.8</text>
<text transform="translate(1305 405) scale(1 1.035)" font-size="70.3" text-anchor="middle">44.4</text>
<text transform="translate(1524 749) scale(1 1.035)" font-size="70.3" text-anchor="middle">50.5</text>
<text transform="translate(225 812) scale(1 1.035)" font-size="70.3" text-anchor="middle">7.8</text>
<rect x="1481.5" y="31.5" width="205.5" height="249" fill="none" stroke="#000" stroke-width="3"/>
<line x1="1482.5" y1="71.8" x2="1634.5" y2="71.8" stroke="#00f" stroke-width="9.4" stroke-linecap="round"/>
<text transform="translate(1668 92.6) scale(1 1.035)" font-size="68" text-anchor="middle">1</text>
<line x1="1482.5" y1="156.8" x2="1634.5" y2="156.8" stroke="#f00" stroke-width="9.4" stroke-linecap="round"/>
<text transform="translate(1668 178.3) scale(1 1.035)" font-size="68" text-anchor="middle">2</text>
<line x1="1482.5" y1="242" x2="1634.5" y2="242" stroke="#000" stroke-width="9.4" stroke-linecap="round"/>
<text transform="translate(1668 263.8) scale(1 1.035)" font-size="68" text-anchor="middle">3</text>
<rect x="504.5" y="485.8" width="5.5" height="1.6" fill="#000"/>
<rect x="1532" y="1073" width="1" height="6" fill="#f00"/>
<rect x="1292.8" y="1205.5" width="1.2" height="2.6" fill="#00f"/>
</svg>
</body></html>
